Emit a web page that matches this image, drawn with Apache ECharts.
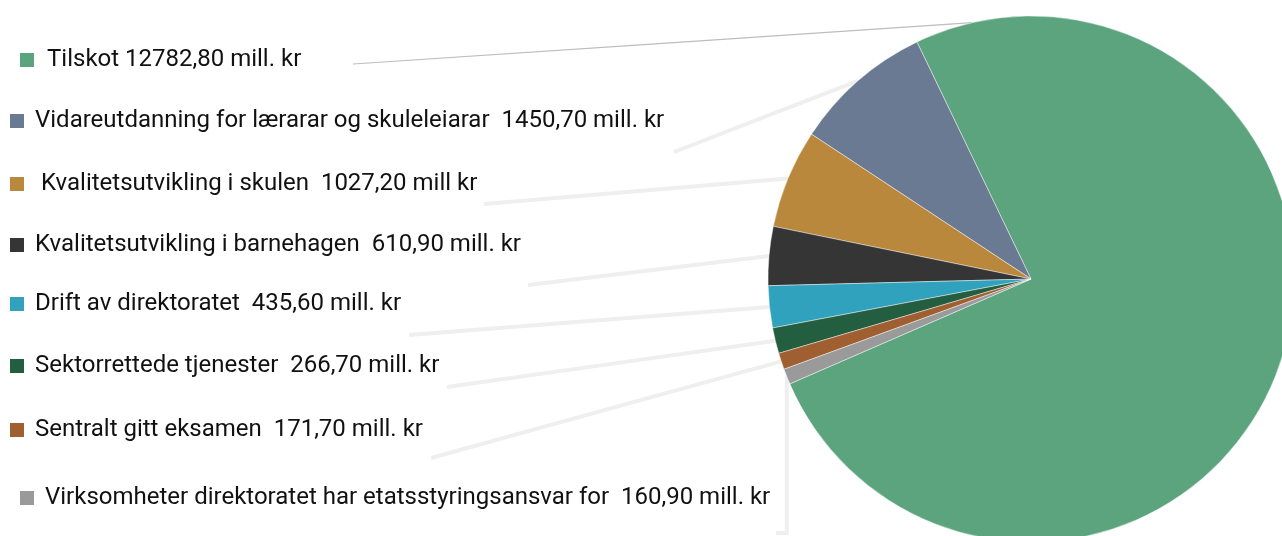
<!DOCTYPE html>
<html>
<head>
<meta charset="utf-8">
<script src="https://cdn.jsdelivr.net/npm/echarts@6/dist/echarts.min.js"></script>
<style>
  html, body { margin: 0; padding: 0; background: #fff; }
  #main { width: 1282px; height: 536px; }
</style>
</head>
<body>
<div id="main"></div>
<script>
// data
var names = [
    'Tilskot',
    'Vidareutdanning for lærarar og skuleleiarar',
    'Kvalitetsutvikling i skulen',
    'Kvalitetsutvikling i barnehagen',
    'Drift av direktoratet',
    'Sektorrettede tjenester',
    'Sentralt gitt eksamen',
    'Virksomheter direktoratet har etatsstyringsansvar for'
];
var values = [12782.8, 1450.7, 1027.2, 610.9, 435.6, 266.7, 171.7, 160.9];
var labelTexts = [
    'Tilskot 12782,80 mill. kr',
    'Vidareutdanning for lærarar og skuleleiarar  1450,70 mill. kr',
    ' Kvalitetsutvikling i skulen  1027,20 mill kr',
    'Kvalitetsutvikling i barnehagen  610,90 mill. kr',
    'Drift av direktoratet  435,60 mill. kr',
    'Sektorrettede tjenester  266,70 mill. kr',
    'Sentralt gitt eksamen  171,70 mill. kr',
    'Virksomheter direktoratet har etatsstyringsansvar for  160,90 mill. kr'
];
var colors = ['#5ba47e', '#6b7a93', '#ba883c', '#353535', '#31a2bd', '#245e41', '#a05f31', '#9a9a9a'];

// layout
var cx = 1031, cy = 279, radius = 263, startAngle = 203.5;
var labelX = [20, 10, 10, 10, 10, 10, 10, 20];
var labelY = [60, 121, 184, 245, 304, 366, 430, 498];
var lineStart = [[353, 64], [674, 152], [484, 204], [528, 285], [409, 335], [447, 387], [431, 458], [776, 533]];
var anchorFrac = [0.953, 0.5, 0.5, 0.5, 0.5, 0.5, 0.5, 0.5];

var total = values.reduce(function (a, b) { return a + b; }, 0);

function anchorPoint(i) {
    var cum = 0;
    for (var k = 0; k < i; k++) cum += values[k];
    var a = (startAngle + (cum + anchorFrac[i] * values[i]) / total * 360) * Math.PI / 180;
    return [cx + radius * Math.cos(a), cy - radius * Math.sin(a)];
}

var pieData = [];
for (var i = 0; i < names.length; i++) {
    pieData.push({
        name: names[i],
        value: values[i],
        itemStyle: { color: colors[i] },
        label: {
            formatter: '{m|}{t|' + labelTexts[i] + '}',
            rich: {
                m: { width: 14, height: 14, backgroundColor: colors[i] },
                t: { fontFamily: 'Roboto', fontSize: 24, color: '#111', padding: [0, 0, 0, i === 0 ? 13 : 11] }
            }
        },
        labelLine: {
            lineStyle: i === 0
                ? { color: '#bdbdbd', width: 1.2 }
                : { color: '#efefef', width: 4 }
        }
    });
}

var chart = echarts.init(document.getElementById('main'));
chart.setOption({
    animation: false,
    series: [{
        type: 'pie',
        center: [cx, cy],
        radius: radius,
        startAngle: startAngle,
        clockwise: false,
        avoidLabelOverlap: false,
        itemStyle: { borderColor: 'rgba(255,255,255,0.55)', borderWidth: 0.8 },
        label: { show: true, position: 'outside' },
        labelLine: { show: true, smooth: false },
        labelLayout: function (params) {
            var i = params.dataIndex;
            var p = anchorPoint(i);
            var s = lineStart[i];
            var pts = i === 7
                ? [s, [p[0], s[1]], p]
                : [s, [(s[0] + p[0]) / 2, (s[1] + p[1]) / 2], p];
            return {
                x: labelX[i],
                y: labelY[i],
                align: 'left',
                verticalAlign: 'middle',
                labelLinePoints: pts
            };
        },
        data: pieData
    }]
});
</script>
</body>
</html>
